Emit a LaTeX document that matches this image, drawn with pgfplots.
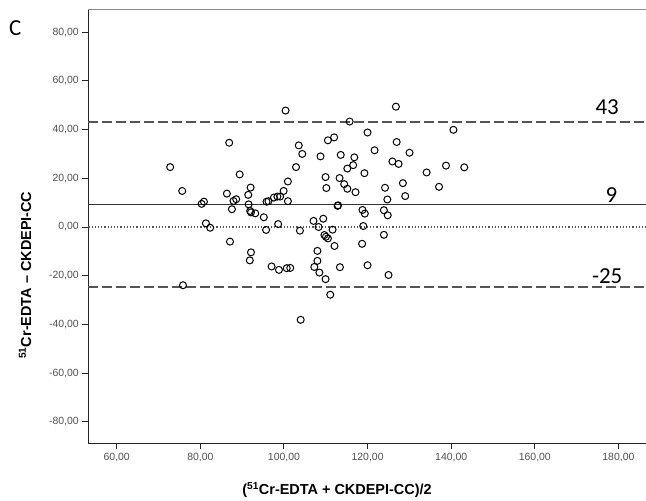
\documentclass[border=0pt]{standalone}
\usepackage{fontspec}
\setmainfont{Liberation Sans}
\newfontfamily\calfont{Carlito}
\usepackage{pgfplots}
\pgfplotsset{compat=1.18}
\definecolor{ticktext}{HTML}{505050}
\definecolor{refline}{HTML}{555555}

\begin{document}
\begin{tikzpicture}[x=1bp,y=1bp]
\useasboundingbox (0,0) rectangle (646,501);
\begin{axis}[
  at={(88.3bp,57.7bp)}, anchor=south west,
  scale only axis, width=557.7bp, height=433.3bp,
  xmin=53.2, xmax=186.6, ymin=-88.8, ymax=89.1,
  axis x line=bottom, axis y line=left,
  axis line style={-, color=black!85, line width=1.1bp},
  xtick={60,80,...,180}, ytick={-80,-60,...,80},
  tick align=outside, major tick length=6bp,
  tick style={color=black!85, line width=1bp},
  /pgf/number format/.cd, fixed, fixed zerofill, precision=2, use comma, 1000 sep={},
  assume math mode=true,
  /pgfplots/.cd,
  ticklabel style={font=\fontsize{10.5}{12}\selectfont, color=ticktext},
  xlabel={(\textsuperscript{51}Cr-EDTA + CKDEPI-CC)/2},
  ylabel={\textsuperscript{51}Cr-EDTA – CKDEPI-CC},
  every axis x label/.style={at={(axis description cs:0.446,-0.108)}, anchor=center,
    font=\bfseries\fontsize{14.5}{16}\selectfont},
  every axis y label/.style={at={(axis description cs:-0.1135,0.388)}, anchor=center,
    rotate=90, font=\bfseries\fontsize{14.5}{16}\selectfont},
  clip=false,
]
% reference lines: mean difference and limits of agreement
\addplot[refline, line width=1.4bp, dash pattern=on 10bp off 4bp] coordinates {(53.2,43.1) (186.6,43.1)};
\addplot[black!80, line width=1.6bp] coordinates {(53.2,9.2) (186.6,9.2)};
\addplot[refline, line width=1.2bp, dash pattern=on 1.2bp off 2bp] coordinates {(53.2,0) (186.6,0)};
\addplot[refline, line width=1.4bp, dash pattern=on 10bp off 4bp] coordinates {(53.2,-24.7) (186.6,-24.7)};

\addplot[only marks, mark=o, mark size=3.5bp, mark options={black, line width=1bp}] coordinates {
  (72.78,24.6) (75.66,14.8) (80.31,9.5) (80.86,10.4) (81.33,1.5) (82.35,-0.3)
  (86.35,13.7) (86.90,34.6) (87.09,-6.0) (87.55,7.3) (87.93,10.7) (88.58,11.4)
  (89.41,21.6) (91.46,13.2) (92.02,16.2) (91.55,9.3) (91.92,6.6) (92.11,6.0)
  (93.13,5.6) (92.11,-10.4) (91.83,-13.7) (95.18,4.0) (95.73,-1.2) (95.83,10.4)
  (96.29,10.6) (97.59,12.1) (98.43,12.5) (99.08,12.5) (99.92,14.8) (100.94,18.7)
  (100.94,10.6) (98.61,1.2) (100.38,47.8) (102.89,24.6) (103.54,33.5) (104.38,30.0)
  (103.82,-1.5) (107.07,2.5) (109.40,3.4) (108.28,0.0) (109.67,-3.3) (110.04,-4.0)
  (110.51,-4.7) (111.63,-1.1) (112.09,-7.8) (108.74,29.0) (110.51,35.6) (112.00,36.8)
  (109.95,20.5) (110.14,16.0) (113.58,29.6) (113.30,20.1) (114.41,17.6) (115.16,15.7)
  (115.16,24.0) (116.55,25.4) (116.83,28.6) (117.11,14.3) (112.83,8.7) (112.93,8.9)
  (115.71,43.3) (126.78,49.4) (119.99,38.8) (121.67,31.5) (126.96,34.9) (130.03,30.5)
  (125.94,26.9) (127.42,25.9) (140.53,39.9) (134.12,22.4) (138.76,25.2) (143.13,24.5)
  (137.09,16.5) (119.25,22.1) (124.17,16.1) (128.45,18.0) (124.73,11.3) (129.00,12.7)
  (118.78,7.0) (119.34,5.5) (123.90,6.9) (124.82,4.8) (118.97,0.4) (123.90,-3.2)
  (118.69,-6.9) (119.99,-15.7) (75.85,-23.9) (97.04,-16.2) (98.80,-17.6) (100.66,-16.9)
  (101.50,-16.8) (104.00,-38.1) (107.26,-16.4) (108.00,-13.9) (108.47,-18.7) (109.95,-21.4)
  (108.00,-9.8) (111.07,-27.8) (113.39,-16.5) (125.01,-19.7)
};

% top frame line
\draw[black!45, line width=1bp] (rel axis cs:0,1) -- (rel axis cs:1,1);

\node[font=\calfont\fontsize{23}{26}\selectfont] at (axis cs:177.3,49.2) {43};
\node[font=\calfont\fontsize{23}{26}\selectfont] at (axis cs:178.3,13.1) {9};
\node[font=\calfont\fontsize{23}{26}\selectfont] at (axis cs:177.3,-20.3) {-25};
\node[font=\calfont\fontsize{23}{26}\selectfont] at (axis description cs:-0.131,0.958) {C};
\end{axis}
\end{tikzpicture}
\end{document}
